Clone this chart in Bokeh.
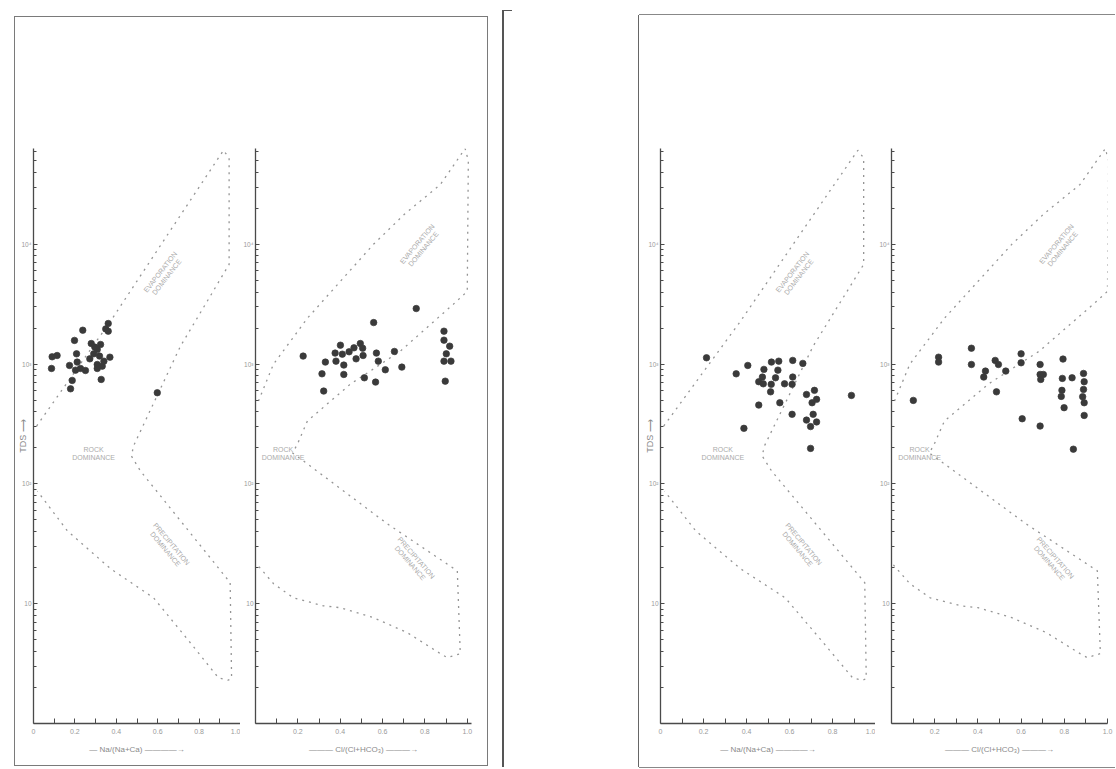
from bokeh.plotting import figure
from bokeh.models import Range1d, FixedTicker, Spacer, Row
from bokeh.core.properties import value
from bokeh.embed import file_html
from bokeh.resources import INLINE
import math

# ---------------- data ----------------
# Gibbs boundary templates (x ratio, TDS mg/L)
CATION_BOUND_X = [0.015, 0.19, 0.372, 0.65, 0.918, 0.945, 0.945, 0.85, 0.71, 0.58, 0.483, 0.473,
                  0.517, 0.75, 0.95, 0.957, 0.94, 0.894, 0.75, 0.58, 0.372, 0.164, 0.019]
CATION_BOUND_Y = [304, 817, 2280, 12200, 61000, 52500, 6800, 3600, 1413, 471, 207, 171,
                  128, 40.4, 15, 2.37, 2.3, 2.4, 4.9, 11.2, 19.6, 40.5, 87]
ANION_BOUND_X = [0.014, 0.085, 0.245, 0.401, 0.557, 0.703, 0.873, 0.99, 1.005, 1.0, 0.934, 0.684,
                 0.448, 0.245, 0.198, 0.175, 0.245, 0.623, 0.953, 0.967, 0.906, 0.873, 0.717,
                 0.557, 0.401, 0.321, 0.179, 0.085, 0.005]
ANION_BOUND_Y = [492, 1000, 2415, 4915, 10000, 17800, 31600, 63000, 50000, 4050, 3160, 1283,
                 681, 335, 215, 181, 147, 46.4, 18.8, 3.83, 3.55, 3.83, 5.73,
                 7.65, 9.26, 9.6, 11.2, 14.7, 21.5]

# Left page: Na/(Na+Ca) and Cl/(Cl+HCO3)
LEFT_NA_X = [0.238, 0.198, 0.361, 0.349, 0.361, 0.090, 0.114, 0.208, 0.279, 0.296, 0.324, 0.308,
             0.291, 0.272, 0.319, 0.369, 0.087, 0.174, 0.211, 0.203, 0.227, 0.251, 0.308, 0.308,
             0.332, 0.187, 0.327, 0.179, 0.598, 0.340]
LEFT_NA_TDS = [1919, 1578, 2183, 1968, 1884, 1151, 1180, 1219, 1486, 1387, 1459, 1324,
               1219, 1107, 1167, 1143, 920, 975, 1040, 891, 920, 885, 993, 920,
               962, 731, 745, 622, 577, 1059]
LEFT_CL_X = [0.759, 0.558, 0.890, 0.890, 0.917, 0.901, 0.890, 0.923, 0.896, 0.225, 0.330, 0.314,
             0.322, 0.376, 0.401, 0.410, 0.380, 0.417, 0.417, 0.442, 0.465, 0.495, 0.506, 0.508,
             0.475, 0.571, 0.580, 0.514, 0.567, 0.613, 0.656, 0.691]
LEFT_CL_TDS = [2911, 2223, 1884, 1585, 1413, 1219, 1059, 1059, 721, 1167, 1040, 830,
               596, 1236, 1439, 1211, 1059, 982, 820, 1268, 1368, 1486, 1358, 1180,
               1107, 1236, 1059, 769, 708, 897, 1276, 944]

# Right page: Na/(Na+Ca) and Cl/(Cl+HCO3)
RIGHT_NA_X = [0.214, 0.406, 0.352, 0.481, 0.516, 0.550, 0.615, 0.662, 0.546, 0.474, 0.457, 0.478,
              0.535, 0.515, 0.577, 0.615, 0.612, 0.512, 0.457, 0.555, 0.612, 0.679, 0.716, 0.705,
              0.726, 0.710, 0.679, 0.726, 0.698, 0.388, 0.698, 0.888]
RIGHT_NA_TDS = [1130, 975, 830, 904, 1040, 1059, 1074, 1014, 891, 780, 713, 685,
                769, 678, 685, 780, 678, 587, 455, 476, 381, 558, 604, 476,
                508, 381, 341, 329, 301, 291, 198, 548]
RIGHT_CL_X = [0.101, 0.218, 0.218, 0.370, 0.370, 0.435, 0.427, 0.480, 0.495, 0.529, 0.486, 0.600,
              0.600, 0.605, 0.688, 0.688, 0.703, 0.691, 0.688, 0.794, 0.791, 0.789, 0.786, 0.799,
              0.836, 0.842, 0.889, 0.892, 0.889, 0.885, 0.892, 0.892]
RIGHT_CL_TDS = [498, 1143, 1040, 1358, 993, 875, 780, 1074, 993, 875, 587, 1219,
                1026, 350, 993, 820, 820, 745, 304, 1102, 760, 604, 538, 433,
                769, 195, 836, 713, 615, 535, 476, 373]

X_MAJOR = [0, 0.2, 0.4, 0.6, 0.8, 1.0]
X_MINOR = [0.1, 0.3, 0.5, 0.7, 0.9]
X_LABELS = ["0", "0.2", "0.4", "0.6", "0.8", "1.0"]
Y_MAJOR = [10, 100, 1000, 10000]
Y_LABELS = ["10", "10²", "10³", "10⁴"]
Y_MINOR = [m * 10 ** e for e in range(0, 5) for m in range(2, 10) if m * 10 ** e < 10 ** 4.8]

FONT_NAME = "Liberation Sans"
FONT = value(FONT_NAME)
AXIS_C = "#4a4a4a"
LABEL_C = "#9a9a9a"
TEXT_C = "#ababab"
BOUND_C = "#959595"
DOT_C = "#3a3a3a"

TEMPLATES = {
    "cation": dict(bx=CATION_BOUND_X, by=CATION_BOUND_Y, xlabel="— Na/(Na+Ca) ————→",
                   texts=[(0.628, 5600, "EVAPORATION\nDOMINANCE", 52),
                          (0.29, 181, "ROCK\nDOMINANCE", 0),
                          (0.652, 30, "PRECIPITATION\nDOMINANCE", -50)]),
    "anion": dict(bx=ANION_BOUND_X, by=ANION_BOUND_Y, xlabel="——— Cl/(Cl+HCO₃) ———→",
                  texts=[(0.778, 9600, "EVAPORATION\nDOMINANCE", 50),
                         (0.13, 181, "ROCK\nDOMINANCE", 0),
                         (0.745, 23, "PRECIPITATION\nDOMINANCE", -49)]),
}


def make_plot(kind, xs, ys, fw, xend, ml, mr, mt, mb, tds_label, zero_label):
    t = TEMPLATES[kind]
    p = figure(x_range=Range1d(0, xend), y_range=Range1d(1, 10 ** 4.8), y_axis_type="log",
               frame_width=fw, frame_height=575, min_border=0,
               min_border_left=ml, min_border_right=mr, min_border_top=mt, min_border_bottom=mb,
               output_backend="svg", toolbar_location=None,
               background_fill_color="white", border_fill_color="white", outline_line_color=None)
    p.grid.visible = False

    xa = p.xaxis[0]
    xa.ticker = FixedTicker(ticks=X_MAJOR, minor_ticks=X_MINOR)
    ov = {k: v for k, v in zip(X_MAJOR, X_LABELS)}
    if not zero_label:
        ov[0] = ""
    xa.major_label_overrides = ov
    xa.axis_line_color = AXIS_C
    xa.axis_line_width = 1.3
    xa.major_tick_in = 5
    xa.major_tick_out = 0
    xa.minor_tick_in = 5
    xa.minor_tick_out = 0
    xa.major_tick_line_color = AXIS_C
    xa.minor_tick_line_color = AXIS_C
    xa.major_label_text_font = FONT_NAME
    xa.major_label_text_font_size = "7px"
    xa.major_label_text_color = LABEL_C
    xa.major_label_standoff = 5
    xa.axis_label = t["xlabel"]
    xa.axis_label_text_font = FONT_NAME
    xa.axis_label_text_font_size = "8px"
    xa.axis_label_text_font_style = "normal"
    xa.axis_label_text_color = "#8a8a8a"
    xa.axis_label_standoff = 8

    ya = p.yaxis[0]
    ya.ticker = FixedTicker(ticks=Y_MAJOR, minor_ticks=Y_MINOR)
    ya.major_label_overrides = {k: v for k, v in zip(Y_MAJOR, Y_LABELS)}
    ya.axis_line_color = AXIS_C
    ya.axis_line_width = 1.3
    ya.major_tick_in = 4
    ya.major_tick_out = 0
    ya.minor_tick_in = 3
    ya.minor_tick_out = 0
    ya.major_tick_line_color = AXIS_C
    ya.minor_tick_line_color = AXIS_C
    ya.major_label_text_font = FONT_NAME
    ya.major_label_text_font_size = "6.5px"
    ya.major_label_text_color = LABEL_C
    ya.major_label_standoff = 2
    if tds_label:
        ya.axis_label = "TDS ⟶"
        ya.axis_label_text_font = FONT_NAME
        ya.axis_label_text_font_size = "9px"
        ya.axis_label_text_font_style = "normal"
        ya.axis_label_text_color = "#8a8a8a"
        ya.axis_label_standoff = -10

    p.line(t["bx"], t["by"], line_color=BOUND_C, line_width=1.3, line_dash="2 5")

    tx = [a[0] for a in t["texts"]]
    ty = [a[1] for a in t["texts"]]
    tt = [a[2] for a in t["texts"]]
    ta = [math.radians(a[3]) for a in t["texts"]]
    p.text(tx, ty, text=tt, angle=ta, text_font=FONT, text_font_size="7px",
           text_color=TEXT_C, text_align="center", text_baseline="middle", text_line_height=1.15)

    p.scatter(xs, ys, size=6.5, fill_color=DOT_C, line_color=DOT_C, line_alpha=0.7)
    return p


f1 = make_plot("cation", LEFT_NA_X, LEFT_NA_TDS, 207, 1.0, 18, 0, 131, 42, True, True)
f2 = make_plot("anion", LEFT_CL_X, LEFT_CL_TDS, 216, 1.02, 15, 16, 131, 42, False, False)
f3 = make_plot("cation", RIGHT_NA_X, RIGHT_NA_TDS, 215, 1.0, 21, 0, 133, 44, True, True)
f4 = make_plot("anion", RIGHT_CL_X, RIGHT_CL_TDS, 216, 1.0, 16, 8, 133, 44, False, False)

left = Row(children=[f1, f2], spacing=0, margin=(17, 0, 0, 15),
           styles={"box-shadow": "0 0 0 1px #7a7a7a"})
bracket = Spacer(width=10, height=757, margin=(10, 0, 0, 15),
                 styles={"box-shadow": "inset 2px 1px 0 #555"})
right = Row(children=[f3, f4], spacing=0, margin=(15, 0, 0, 127),
            styles={"box-shadow": "-1px 0 0 #666, 0 -1px 0 #888, 0 1px 0 #888"})

p = Row(children=[left, bracket, right], spacing=0)

open("out.html", "w").write(file_html(p, INLINE, "Gibbs diagrams"))
